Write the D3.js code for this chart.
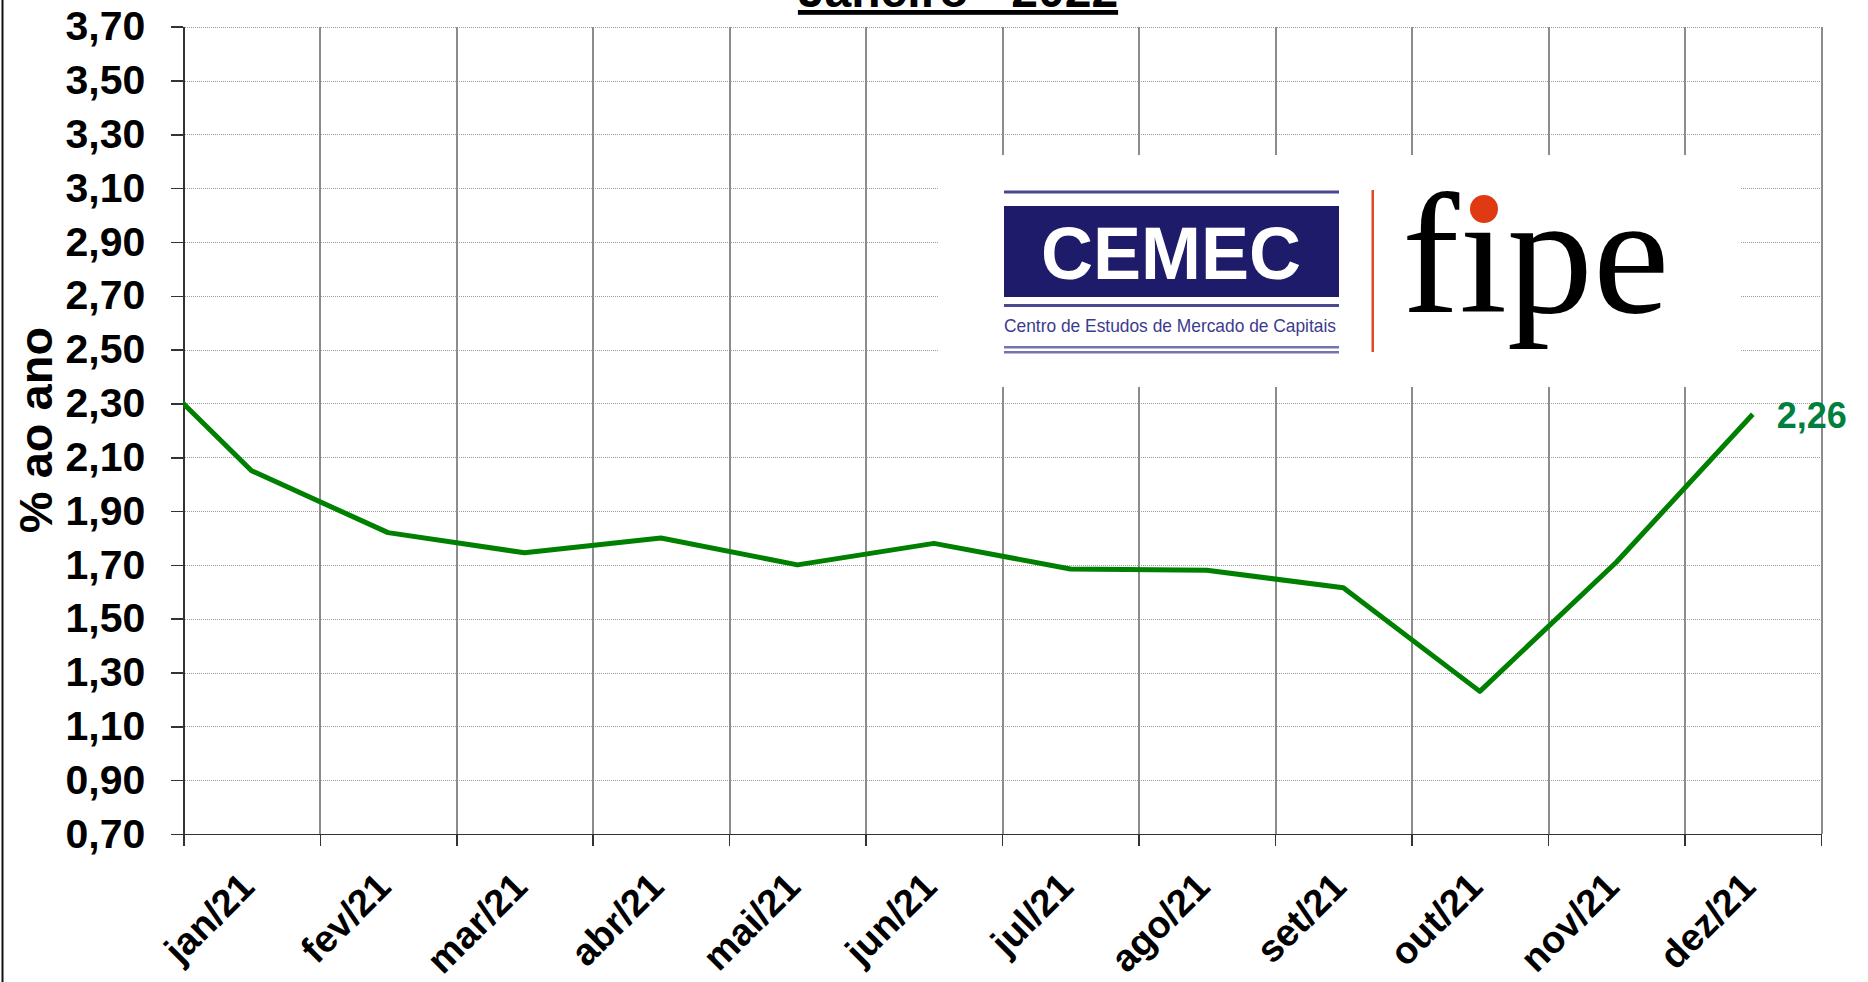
<!DOCTYPE html>
<meta charset="utf-8">
<style>
body { margin: 0; background: #fff; }
text { font-family: "Liberation Sans", Arial, sans-serif; font-weight: bold; }
.axis path, .axis line { stroke: #333; stroke-width: 1.5px; shape-rendering: crispEdges; }
.axis text { font-size: 41px; fill: #000; }
.grid-h line { stroke: #9a9a9a; stroke-width: 1px; stroke-dasharray: 1,1; shape-rendering: crispEdges; }
.grid-v line { stroke: #8c8c8c; stroke-width: 2px; shape-rendering: crispEdges; }
.grid-h path, .grid-v path { display: none; }
.line { fill: none; stroke: #008000; stroke-width: 5px; stroke-linejoin: round; }
</style>
<body>
<svg width="1868" height="982"></svg>
<script src="https://d3js.org/d3.v7.min.js"></script>
<script>
// taxa mensal, % ao ano
var months = ["jan/21", "fev/21", "mar/21", "abr/21", "mai/21", "jun/21",
              "jul/21", "ago/21", "set/21", "out/21", "nov/21", "dez/21"];
var rates = [2.05, 1.82, 1.745, 1.80, 1.70, 1.78, 1.685, 1.68, 1.615, 1.23, 1.71, 2.26];
// previous month, only its segment into jan/21 shows (clipped at the axis)
var prevMonth = "dez/20";
var prevRate = 2.55;
var yTicks = [0.7, 0.9, 1.1, 1.3, 1.5, 1.7, 1.9, 2.1, 2.3, 2.5, 2.7, 2.9, 3.1, 3.3, 3.5, 3.7];
var title = "Janeiro - 2022";
var yTitle = "% ao ano";

var svg = d3.select("svg"),
    margin = {top: 26.7, right: 47, bottom: 148, left: 183.3},
    width = +svg.attr("width") - margin.left - margin.right,
    height = +svg.attr("height") - margin.top - margin.bottom;

var ptBR = d3.formatLocale({decimal: ",", thousands: ".", grouping: [3], currency: ["R$", ""]});
var fmt = ptBR.format(".2f");

var x = d3.scaleLinear().domain([-0.5, months.length - 0.5]).range([0, width]);
var y = d3.scaleLinear().domain([0.7, 3.7]).range([height, 0]);
var bounds = d3.range(months.length + 1).map(function(i) { return i - 0.5; });

// frame edge on the left
svg.append("line")
    .attr("x1", 2.5).attr("x2", 2.5).attr("y1", 0).attr("y2", 982)
    .attr("stroke", "#111").attr("stroke-width", 2);

// title (mostly cut off at the top)
svg.append("text")
    .attr("x", 958).attr("y", 7)
    .attr("text-anchor", "middle")
    .style("font-size", "48px")
    .style("text-decoration", "underline")
    .text(title);

var g = svg.append("g")
    .attr("transform", "translate(" + margin.left + "," + margin.top + ")");

g.append("defs").append("clipPath").attr("id", "plot")
  .append("rect").attr("width", width).attr("height", height);

g.append("g")
    .attr("class", "grid-h")
    .call(d3.axisLeft(y).tickValues(yTicks).tickSize(-width).tickFormat(""));

g.append("g")
    .attr("class", "grid-v")
    .attr("transform", "translate(0," + height + ")")
    .call(d3.axisTop(x).tickValues(bounds.slice(1)).tickSize(height).tickFormat(""));

// logo block, sits on top of the grid
var logo = g.append("g").attr("transform", "translate(" + (-margin.left) + "," + (-margin.top) + ")");
logo.append("rect").attr("x", 938).attr("y", 155).attr("width", 802).attr("height", 232).attr("fill", "#fff");
logo.append("rect").attr("x", 1004).attr("y", 190.5).attr("width", 335).attr("height", 3).attr("fill", "#4a4890");
logo.append("rect").attr("x", 1004).attr("y", 206).attr("width", 335).attr("height", 91).attr("fill", "#1e1b6a");
logo.append("text")
    .attr("x", 1171).attr("y", 279)
    .attr("text-anchor", "middle")
    .attr("fill", "#fff")
    .attr("textLength", 260).attr("lengthAdjust", "spacingAndGlyphs")
    .style("font-size", "74px")
    .text("CEMEC");
logo.append("rect").attr("x", 1004).attr("y", 304).attr("width", 335).attr("height", 3).attr("fill", "#4a4890");
logo.append("text")
    .attr("x", 1004).attr("y", 332)
    .attr("fill", "#3d3b8e")
    .attr("textLength", 332).attr("lengthAdjust", "spacingAndGlyphs")
    .style("font-family", "'Liberation Sans Narrow', 'Liberation Sans', sans-serif")
    .style("font-weight", "normal")
    .style("font-size", "19px")
    .text("Centro de Estudos de Mercado de Capitais");
logo.append("rect").attr("x", 1004).attr("y", 346).attr("width", 335).attr("height", 2.5).attr("fill", "#7674b0");
logo.append("rect").attr("x", 1004).attr("y", 351).attr("width", 335).attr("height", 2.5).attr("fill", "#7674b0");
logo.append("rect").attr("x", 1371.5).attr("y", 190).attr("width", 2.5).attr("height", 162).attr("fill", "#e04a20");
logo.append("text")
    .attr("x", 1402).attr("y", 311.7)
    .attr("fill", "#000")
    .style("font-family", "'Liberation Serif', 'Times New Roman', serif")
    .style("font-weight", "normal")
    .style("font-size", "172px")
    .text("fipe");
logo.append("circle").attr("cx", 1484).attr("cy", 209).attr("r", 14).attr("fill", "#e03a12");

// axes
g.append("g")
    .attr("class", "axis axis--y")
    .call(d3.axisLeft(y).tickValues(yTicks).tickSize(12).tickSizeOuter(0).tickPadding(26).tickFormat(fmt));

g.append("g")
    .attr("class", "axis axis--x")
    .attr("transform", "translate(0," + height + ")")
    .call(d3.axisBottom(x).tickValues(bounds).tickSize(12).tickSizeOuter(0).tickFormat(""));

g.selectAll(".xlab")
  .data(months)
  .join("text")
    .attr("class", "xlab")
    .attr("text-anchor", "end")
    .attr("transform", function(d, i) { return "translate(" + (x(i) + 5) + "," + (height + 55) + ") rotate(-45)"; })
    .style("font-size", "38px")
    .text(function(d) { return d; });

svg.append("text")
    .attr("transform", "translate(52,430) rotate(-90)")
    .attr("text-anchor", "middle")
    .style("font-size", "47px")
    .text(yTitle);

// series
var series = [{i: -1, m: prevMonth, v: prevRate}].concat(rates.map(function(v, i) {
  return {i: i, m: months[i], v: v};
}));

var line = d3.line()
    .x(function(d) { return x(d.i); })
    .y(function(d) { return y(d.v); });

g.append("path")
    .datum(series)
    .attr("class", "line")
    .attr("clip-path", "url(#plot)")
    .attr("d", line);

var last = series[series.length - 1];
g.append("text")
    .attr("x", x(last.i) + 24)
    .attr("y", y(last.v) + 14)
    .attr("fill", "#007f3f")
    .style("font-size", "36px")
    .text(fmt(last.v));
</script>
